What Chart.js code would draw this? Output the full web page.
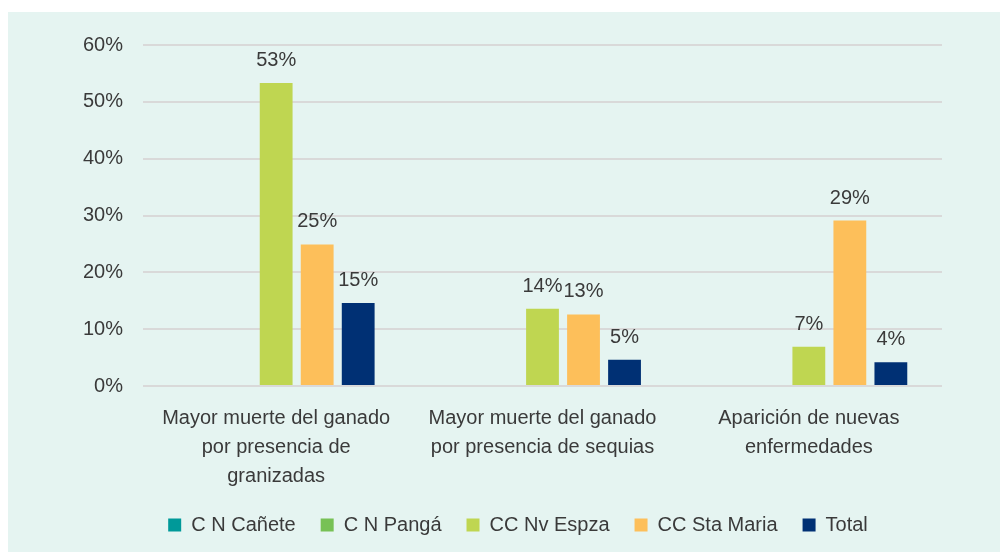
<!DOCTYPE html>
<html>
<head>
<meta charset="utf-8">
<script src="https://cdn.jsdelivr.net/npm/chart.js@4"></script>
<style>
    html, body { margin: 0; padding: 0; background: #ffffff; }
    #panel { position: absolute; left: 8px; top: 12px; width: 992px; height: 540px; background: #e5f4f1; }
</style>
</head>
<body>
<div id="panel"><canvas id="chart"></canvas></div>
<script>
// datos del gráfico (porcentajes)
const categories = [
    ['Mayor muerte del ganado', 'por presencia de', 'granizadas'],
    ['Mayor muerte del ganado', 'por presencia de sequias'],
    ['Aparición de nuevas', 'enfermedades']
];
const seriesNames = ['C N Cañete', 'C N Pangá', 'CC Nv Espza', 'CC Sta Maria', 'Total'];
const cnCanete = [0, 0, 0];
const cnPanga = [0, 0, 0];
const ccNvEspza = [53.3, 13.6, 6.9];
const ccStaMaria = [24.9, 12.6, 29.1];
const total = [14.6, 4.6, 4.2];
const seriesColors = ['#009999', '#77c155', '#bfd651', '#fdbf5a', '#003074'];
const yTicks = [0, 10, 20, 30, 40, 50, 60];

Chart.defaults.font.family = "'Liberation Sans', Arial, sans-serif";
Chart.defaults.font.size = 20;
Chart.defaults.color = '#3a3a3a';

// etiquetas de valor encima de cada barra
const valueLabels = {
    id: 'valueLabels',
    afterDatasetsDraw(chart) {
        const ctx = chart.ctx;
        ctx.save();
        ctx.font = "20px 'Liberation Sans', Arial, sans-serif";
        ctx.fillStyle = '#3a3a3a';
        ctx.textAlign = 'center';
        ctx.textBaseline = 'alphabetic';
        chart.data.datasets.forEach((ds, i) => {
            chart.getDatasetMeta(i).data.forEach((bar, j) => {
                const v = ds.data[j];
                if (!v) return;
                ctx.fillText(Math.round(v) + '%', bar.x, bar.y - 17);
            });
        });
        ctx.restore();
    }
};

// la leyenda del original está algo desplazada a la derecha
const legendShift = {
    id: 'legendShift',
    afterLayout(chart) {
        if (!chart.legend) return;
        chart.legend.left += 43;
        chart.legend.right += 43;
    }
};

const allSeries = [cnCanete, cnPanga, ccNvEspza, ccStaMaria, total];

new Chart(document.getElementById('chart').getContext('2d'), {
    type: 'bar',
    data: {
        labels: categories,
        datasets: allSeries.map((values, i) => ({
            label: seriesNames[i],
            data: values,
            backgroundColor: seriesColors[i],
            categoryPercentage: 0.77,
            barPercentage: 0.8
        }))
    },
    options: {
        responsive: true,
        maintainAspectRatio: false,
        animation: false,
        layout: { padding: { top: 33, right: 58, bottom: 7, left: 0 } },
        plugins: {
            legend: {
                position: 'bottom',
                labels: { boxWidth: 13, boxHeight: 13, padding: 25, color: '#3a3a3a' }
            },
            tooltip: { enabled: false }
        },
        scales: {
            x: {
                grid: { display: false },
                border: { display: false },
                ticks: { padding: 10, maxRotation: 0, font: { size: 20, lineHeight: 1.45 } },
                afterFit: (scale) => { scale.height = 104; }
            },
            y: {
                min: 0,
                max: 60,
                afterBuildTicks: (scale) => { scale.ticks = yTicks.map(v => ({ value: v })); },
                grid: { color: '#d9d9d9', lineWidth: 2, drawTicks: false },
                border: { display: false },
                ticks: { padding: 20, callback: (v) => v + '%' },
                afterFit: (scale) => { scale.width = 135; }
            }
        }
    },
    plugins: [valueLabels, legendShift]
});
</script>
</body>
</html>
